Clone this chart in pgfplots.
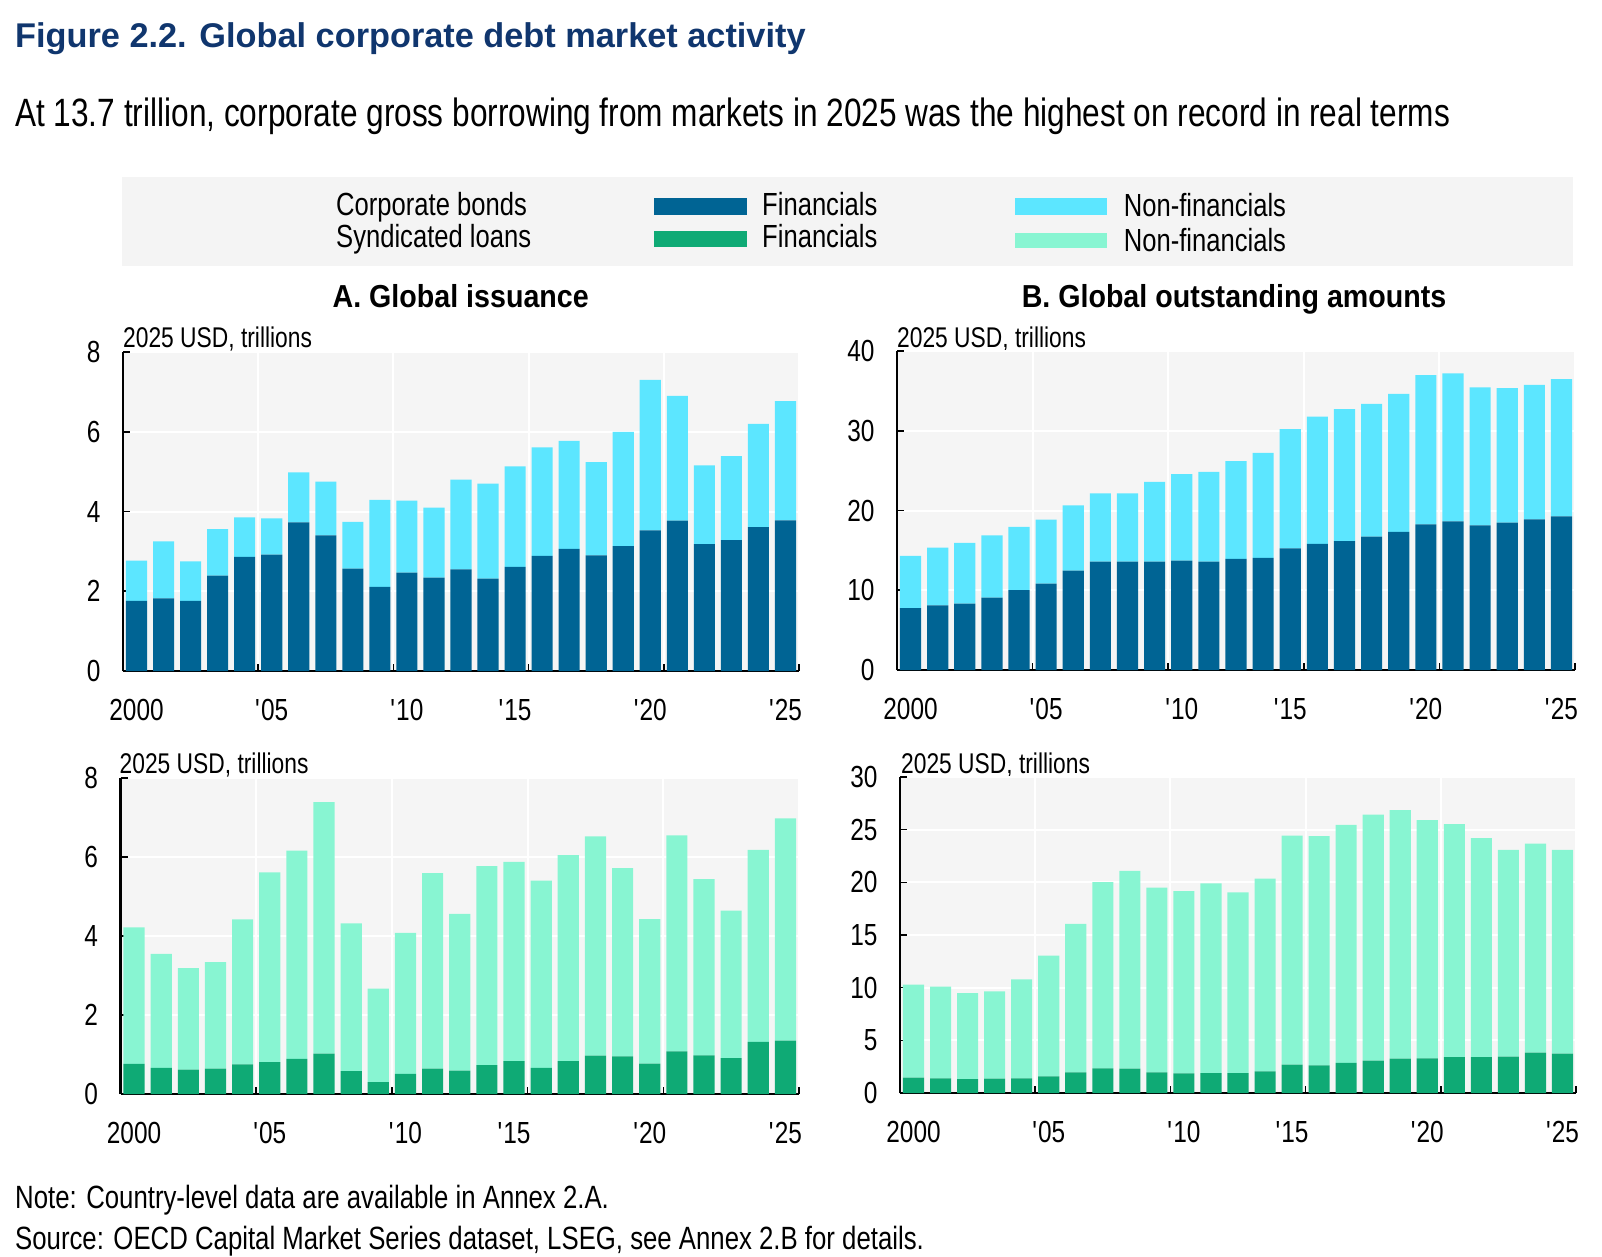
\documentclass[border=0pt]{standalone}
\usepackage{fontspec}
\setmainfont{Liberation Sans}[FakeStretch=0.8]
\newfontfamily\widefont{Liberation Sans}
\newfontfamily\ptfont{Liberation Sans}[FakeStretch=0.9]
\usepackage{pgfplots}
\usepackage{pgfplotstable}
\pgfplotsset{compat=1.18}
\definecolor{darkblue}{RGB}{0,100,148}
\definecolor{cyanc}{RGB}{92,230,255}
\definecolor{darkgreen}{RGB}{15,170,117}
\definecolor{lightgreen}{RGB}{136,245,210}
\definecolor{titleblue}{RGB}{16,54,110}
\definecolor{plotbg}{RGB}{245,245,245}
\definecolor{legbg}{RGB}{244,244,244}
\newcommand\ticksize{\fontsize{30.5bp}{36bp}\selectfont}
\newcommand\unitsize{\fontsize{28.5bp}{34bp}\selectfont}

\pgfplotstableread{
x fin non
0 1.76 1.01
1 1.82 1.43
2 1.76 0.99
3 2.39 1.17
4 2.86 0.99
5 2.92 0.91
6 3.73 1.25
7 3.40 1.35
8 2.57 1.17
9 2.11 2.18
10 2.47 1.80
11 2.34 1.76
12 2.55 2.25
13 2.32 2.38
14 2.61 2.52
15 2.89 2.72
16 3.06 2.71
17 2.90 2.34
18 3.13 2.87
19 3.53 3.77
20 3.77 3.13
21 3.18 1.98
22 3.28 2.11
23 3.61 2.59
24 3.78 2.99
}\tA

\pgfplotstableread{
x fin non
0 7.76 6.55
1 8.10 7.26
2 8.31 7.64
3 9.07 7.80
4 10.03 7.93
5 10.83 8.02
6 12.47 8.18
7 13.60 8.56
8 13.60 8.56
9 13.60 9.99
10 13.72 10.83
11 13.60 11.25
12 13.93 12.26
13 14.06 13.18
14 15.24 14.98
15 15.82 15.95
16 16.16 16.54
17 16.71 16.66
18 17.33 17.30
19 18.26 18.72
20 18.64 18.55
21 18.13 17.30
22 18.47 16.87
23 18.89 16.87
24 19.27 17.20
}\tB

\pgfplotstableread{
x fin non
0 0.76 3.46
1 0.66 2.89
2 0.62 2.57
3 0.64 2.70
4 0.75 3.67
5 0.81 4.80
6 0.89 5.27
7 1.02 6.37
8 0.58 3.74
9 0.30 2.37
10 0.51 3.57
11 0.64 4.95
12 0.59 3.97
13 0.73 5.04
14 0.83 5.05
15 0.66 4.74
16 0.83 5.22
17 0.97 5.55
18 0.95 4.77
19 0.77 3.66
20 1.08 5.47
21 0.98 4.46
22 0.91 3.73
23 1.32 4.86
24 1.35 5.63
}\tC

\pgfplotstableread{
x fin non
0 1.46 8.83
1 1.40 8.70
2 1.33 8.16
3 1.37 8.28
4 1.40 9.39
5 1.59 11.46
6 1.97 14.09
7 2.35 17.68
8 2.32 18.76
9 1.97 17.52
10 1.87 17.30
11 1.90 18.00
12 1.90 17.15
13 2.06 18.29
14 2.70 21.74
15 2.63 21.75
16 2.86 22.60
17 3.08 23.36
18 3.27 23.59
19 3.30 22.60
20 3.40 22.12
21 3.40 20.79
22 3.46 19.62
23 3.84 19.84
24 3.75 19.33
}\tD

\pgfplotsset{panel/.style={
  scale only axis,
  anchor=south west,
  ybar stacked, bar width=0.78,
  xmin=-0.5, xmax=24.5, ymin=0,
  enlargelimits=false,
  axis background/.style={fill=plotbg},
  axis lines*=left,
  axis line style={black, line width=2.6bp},
  tick align=inside, major tick length=7bp,
  tick style={black, line width=1.6bp},
  ymajorgrids, xmajorgrids,
  major grid style={white, line width=2bp},
  xtick={-0.5,4.5,9.5,14.5,19.5,24.5}, xticklabels={},
  extra x ticks={0,5,10,14,19,24},
  extra x tick labels={2000,\textquotesingle05,\textquotesingle10,\textquotesingle15,\textquotesingle20,\textquotesingle25},
  extra x tick style={xmajorgrids=false, major tick length=0pt},
  /pgf/number format/assume math mode=true,
  tick label style={font=\ticksize},
  xticklabel style={yshift=-25bp},
  yticklabel style={xshift=-19bp},
}}

\begin{document}
\begin{tikzpicture}
\path[use as bounding box, fill=white] (0,0) rectangle (1602bp,-1257bp);

% titles
\node[anchor=base west, inner sep=0, text=titleblue, font=\fontsize{34.3bp}{40bp}\widefont\bfseries] at (15bp,-47.3bp) {Figure 2.2. Global corporate debt market activity};
\node[anchor=base west, inner sep=0, font=\fontsize{39.5bp}{46bp}\selectfont] at (15bp,-126.7bp) {At 13.7 trillion, corporate gross borrowing from markets in 2025 was the highest on record in real terms};

% legend
\fill[legbg] (121.6bp,-176.7bp) rectangle (1573bp,-265.6bp);
\begin{scope}[every node/.style={anchor=base west, inner sep=0, font=\fontsize{32bp}{38bp}\selectfont}]
\node at (336bp,-215.8bp) {Corporate bonds};
\node at (336bp,-247.5bp) {Syndicated loans};
\fill[darkblue] (653.7bp,-198bp) rectangle (746.7bp,-214.5bp);
\fill[darkgreen] (653.7bp,-230.8bp) rectangle (746.7bp,-247.2bp);
\node at (762bp,-215.8bp) {Financials};
\node at (762bp,-247.5bp) {Financials};
\fill[cyanc] (1015.3bp,-198bp) rectangle (1107.3bp,-214.5bp);
\fill[lightgreen] (1015.3bp,-232.9bp) rectangle (1107.3bp,-248.2bp);
\node at (1123.6bp,-216.8bp) {Non-financials};
\node at (1123.6bp,-251.5bp) {Non-financials};
\end{scope}

% panel titles
\node[anchor=base, inner sep=0, font=\fontsize{31.8bp}{37bp}\ptfont\bfseries] at (460.7bp,-307.5bp) {A. Global issuance};
\node[anchor=base, inner sep=0, font=\fontsize{31.8bp}{37bp}\ptfont\bfseries] at (1234bp,-307.5bp) {B. Global outstanding amounts};

% units
\begin{scope}[every node/.style={anchor=base west, inner sep=0, font=\unitsize}]
\node at (123bp,-347bp) {2025 USD, trillions};
\node at (897bp,-347bp) {2025 USD, trillions};
\node at (119.5bp,-773bp) {2025 USD, trillions};
\node at (901bp,-773bp) {2025 USD, trillions};
\end{scope}

% top-left
\begin{axis}[panel, at={(123bp,-671bp)}, width=676bp, height=319bp, ymax=8, ytick={0,2,4,6,8}]
\addplot[fill=darkblue, draw=none] table[x=x, y=fin] {\tA};
\addplot[fill=cyanc, draw=none] table[x=x, y=non] {\tA};
\end{axis}

% top-right
\begin{axis}[panel, at={(897bp,-670bp)}, width=678bp, height=319bp, ymax=40, ytick={0,10,20,30,40}]
\addplot[fill=darkblue, draw=none] table[x=x, y=fin] {\tB};
\addplot[fill=cyanc, draw=none] table[x=x, y=non] {\tB};
\end{axis}

% bottom-left
\begin{axis}[panel, at={(120.5bp,-1094bp)}, width=678.5bp, height=316bp, ymax=8, ytick={0,2,4,6,8}]
\addplot[fill=darkgreen, draw=none] table[x=x, y=fin] {\tC};
\addplot[fill=lightgreen, draw=none] table[x=x, y=non] {\tC};
\end{axis}

% bottom-right
\begin{axis}[panel, at={(900bp,-1093bp)}, width=676bp, height=316bp, ymax=30, ytick={0,5,10,15,20,25,30}]
\addplot[fill=darkgreen, draw=none] table[x=x, y=fin] {\tD};
\addplot[fill=lightgreen, draw=none] table[x=x, y=non] {\tD};
\end{axis}

% notes
\begin{scope}[every node/.style={anchor=base west, inner sep=0, font=\fontsize{32.2bp}{38bp}\selectfont}]
\node at (15bp,-1208.7bp) {Note: Country-level data are available in Annex 2.A.};
\node at (15bp,-1249bp) {Source: OECD Capital Market Series dataset, LSEG, see Annex 2.B for details.};
\end{scope}
\end{tikzpicture}
\end{document}
